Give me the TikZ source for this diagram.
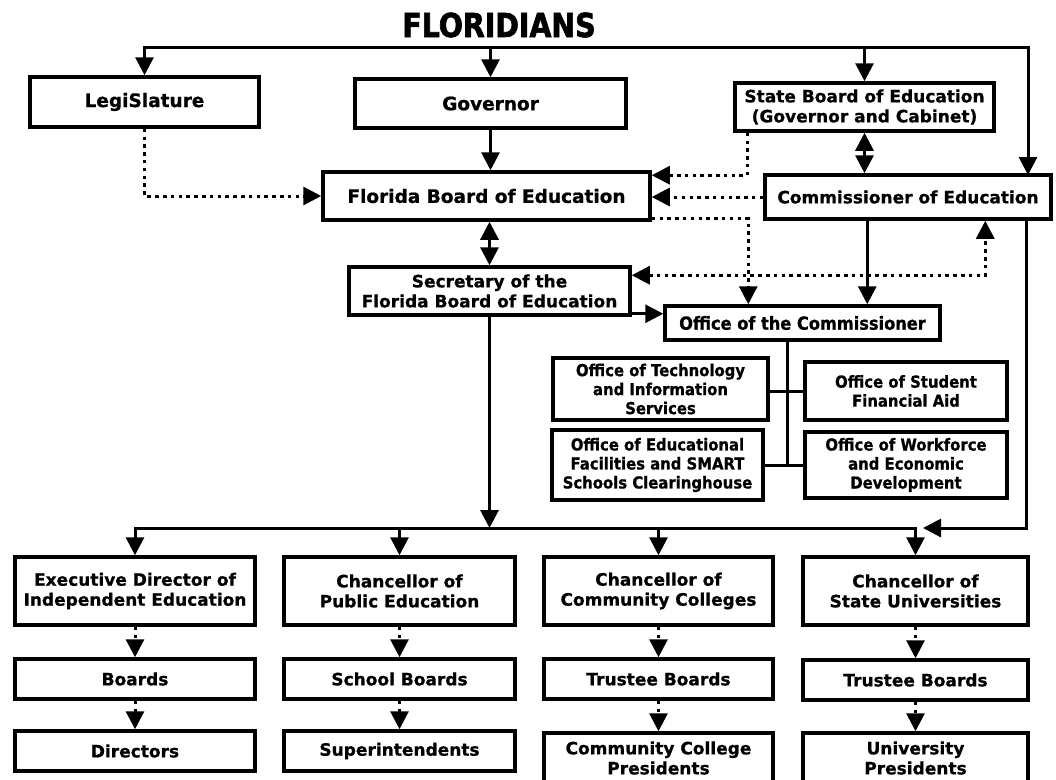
\documentclass[tikz,border=0pt]{standalone}
\usepackage{fontspec}
\setmainfont{DejaVu Sans}[BoldFeatures={FakeBold=0.8}]
\newfontfamily\condfont{DejaVu Sans}[FakeStretch=0.9, BoldFeatures={FakeBold=0.8}]
\newfontfamily\headfont{DejaVu Sans}[FakeStretch=0.86, BoldFeatures={FakeBold=2}]
\usetikzlibrary{arrows.meta}

\tikzset{
	box/.style={draw, line width=3.5pt, align=center, inner sep=0pt,
		font=\bfseries\fontsize{17}{20}\selectfont},
	bigbox/.style={box, font=\bfseries\fontsize{18.5}{20}\selectfont},
	offbox/.style={box, font=\condfont\bfseries\fontsize{16.5}{19}\selectfont},
	link/.style={line width=3pt, line cap=rect},
	dotlink/.style={line width=3pt, dash pattern=on 3.5pt off 4.3pt},
}

\begin{document}
\begin{tikzpicture}[x=1pt, y=-1pt, >={Triangle[length=18pt,width=18pt]}]
	\useasboundingbox (0,0) rectangle (1056,779);
	\clip (0,0) rectangle (1056,779);

	\node[font=\headfont\bfseries\fontsize{33}{36}\selectfont, inner sep=0pt] (title) at (499,25) {FLORIDIANS};

	% top level
	\node[bigbox, minimum width=229pt, minimum height=50pt] (leg) at (144.5,102) {LegiSlature};
	\node[bigbox, minimum width=271pt, minimum height=49pt] (gov) at (490.5,103.5) {Governor};
	\node[box, minimum width=259pt, minimum height=48pt] (sbe) at (864.5,107) {State Board of Education\\(Governor and Cabinet)};
	\node[bigbox, minimum width=327pt, minimum height=48pt] (fbe) at (486.5,196) {Florida Board of Education};
	\node[box, minimum width=286pt, minimum height=44pt] (comm) at (908,197) {Commissioner of Education};
	\node[box, minimum width=281pt, minimum height=48pt] (sec) at (489.5,291) {Secretary of the\\Florida Board of Education};
	\node[box, font=\condfont\bfseries\fontsize{18}{20}\selectfont, minimum width=275pt, minimum height=34pt] (ofc) at (802.5,323) {Office of the Commissioner};

	% offices
	\node[offbox, minimum width=215pt, minimum height=62pt] (tech) at (660.5,389) {Office of Technology\\and Information\\Services};
	\node[offbox, minimum width=202pt, minimum height=58pt] (aid) at (906,391) {Office of Student\\Financial Aid};
	\node[offbox, minimum width=211pt, minimum height=70pt] (fac) at (657.5,465) {Office of Educational\\Facilities and SMART\\Schools Clearinghouse};
	\node[offbox, minimum width=202pt, minimum height=66pt] (wfd) at (906,465) {Office of Workforce\\and Economic\\Development};

	% bottom columns
	\node[box, minimum width=240pt, minimum height=68pt] (ed) at (135,591) {Executive Director of\\Independent Education};
	\node[box, minimum width=240pt, minimum height=40pt] (bd) at (135,679) {Boards};
	\node[box, minimum width=240pt, minimum height=40pt] (dr) at (135,751) {Directors};
	\node[box, minimum width=231pt, minimum height=68pt] (cp) at (399.5,591) {Chancellor of\\Public Education};
	\node[box, minimum width=231pt, minimum height=40pt] (sb) at (399.5,679) {School Boards};
	\node[box, minimum width=231pt, minimum height=40pt] (si) at (399.5,751) {Superintendents};
	\node[box, minimum width=229pt, minimum height=68pt] (cc) at (658.5,591) {Chancellor of\\Community Colleges};
	\node[box, minimum width=229pt, minimum height=40pt] (tb1) at (658.5,679) {Trustee Boards};
	\node[box, minimum width=229pt, minimum height=50pt] (ccp) at (658.5,758) {Community College\\Presidents};
	\node[box, minimum width=225pt, minimum height=68pt] (cu) at (915.5,591) {Chancellor of\\State Universities};
	\node[box, minimum width=225pt, minimum height=40pt] (tb2) at (915.5,680) {Trustee Boards};
	\node[box, minimum width=225pt, minimum height=50pt] (up) at (915.5,758) {University\\Presidents};

	\coordinate (tbus) at (499,47);
	\coordinate (cin) at (1028,175);
	\coordinate (bbus) at (499,528);
	\coordinate (bjoin) at (923,528);
	\coordinate (cdown) at ([xshift=104pt]comm.south west);
	\coordinate (cright) at ([xshift=-26pt]comm.south east);
	\coordinate (sout) at ([yshift=3pt]sec.south east);
	\coordinate (spine) at ([xshift=-15.5pt]ofc.south);

	% solid links
	\draw[link,->] (leg.north |- tbus) -| (cin);
	\foreach \n in {leg,gov,sbe}
		\draw[link,->] (\n.north |- tbus) -- (\n.north);
	\draw[link,->] (gov.south) -- (gov.south |- fbe.north);
	\draw[link,<->] (sec.north |- fbe.south) -- (sec.north);
	\draw[link,<->] (sbe.south) -- (sbe.south |- comm.north);
	\draw[link,->] (cdown) -- (cdown |- ofc.north);
	\draw[link,->] (sout) -- (sout -| ofc.west);
	\draw[link] (spine) -- (spine |- fac.east);
	\draw[link] (tech.east |- aid.west) -- (aid.west);
	\draw[link] (fac.east) -- (wfd.west);
	\draw[link,->] (sec.south) -- (sec.south |- bbus);
	\draw[link] (ed.north |- bbus) -- (cu.north |- bbus);
	\foreach \n in {ed,cp,cc,cu}
		\draw[link,->] (\n.north |- bbus) -- (\n.north);
	\draw[link,->] (cright) |- (bjoin);

	% dotted links
	\draw[dotlink,->] (leg.south) |- (fbe.west);
	\draw[dotlink,->] ([xshift=14pt]sbe.south west) |- ([yshift=-5pt]fbe.north east);
	\draw[dotlink,->] (comm.west) -- (comm.west -| fbe.east);
	\draw[dotlink,->] ([yshift=3pt]fbe.south east) -| ([xshift=85pt]ofc.north west);
	\draw[dotlink,<->] ([yshift=-10pt]sec.north east) -| ([xshift=222pt]comm.south west);
	\foreach \a/\b in {ed/bd,bd/dr,cp/sb,sb/si,cc/tb1,tb1/ccp,cu/tb2,tb2/up}
		\draw[dotlink,->] (\a.south) -- (\b.north);
\end{tikzpicture}
\end{document}
